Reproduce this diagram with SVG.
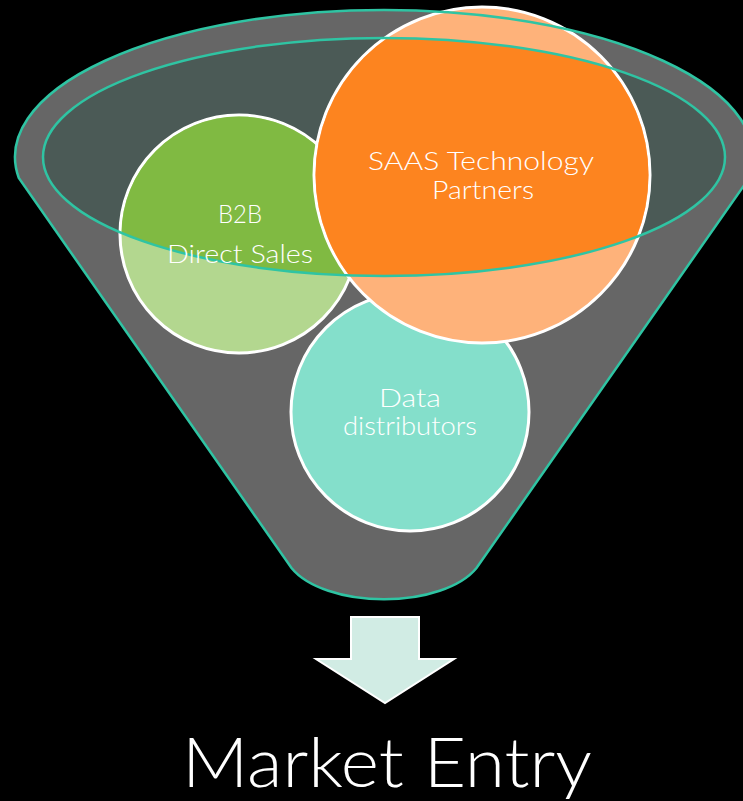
<svg xmlns="http://www.w3.org/2000/svg" width="743" height="801" viewBox="0 0 743 801">
  <style>
    .rim { stroke: #2fc4a3; stroke-width: 2.5; }
    .ring { stroke: #ffffff; stroke-width: 3; }
    .label { fill: #ffffff; font-family: Lato, "Open Sans", "Liberation Sans", sans-serif; font-size: 25px; font-weight: 300; text-anchor: middle; }
    .title { fill: #ffffff; font-family: Lato, "Open Sans", "Liberation Sans", sans-serif; font-size: 68px; font-weight: 300; text-anchor: middle; }
  </style>
  <defs>
    <clipPath id="mouth">
      <ellipse cx="384" cy="157" rx="341" ry="119"/>
    </clipPath>
  </defs>

  <rect x="0" y="0" width="743" height="801" fill="#000000"/>

  <!-- funnel body -->
  <g id="funnel">
    <path d="M 18.8 178 A 369 147 0 1 1 749.2 178 L 476.5 568 A 100 50.6 0 0 1 291.5 568 Z" fill="#666666"/>
    <ellipse cx="384" cy="157" rx="341" ry="119" fill="#4b5a56"/>
  </g>

  <!-- channel circles -->
  <g id="node-data">
    <circle cx="410" cy="412" r="119" fill="#84dfcb" class="ring"/>
    <text class="label" x="410" y="407" textLength="62" lengthAdjust="spacingAndGlyphs">Data</text>
    <text class="label" x="410" y="435" textLength="134" lengthAdjust="spacingAndGlyphs">distributors</text>
  </g>

  <g id="node-b2b">
    <circle cx="239" cy="234" r="119" fill="#b3d78f" class="ring"/>
    <circle cx="239" cy="234" r="117.5" fill="#80ba42" clip-path="url(#mouth)"/>
  </g>

  <g id="node-saas">
    <circle cx="482" cy="175" r="168" fill="#feb27a" class="ring"/>
    <circle cx="482" cy="175" r="166.5" fill="#fd841f" clip-path="url(#mouth)"/>
  </g>

  <!-- rims drawn over the circles -->
  <g id="funnel-rims" fill="none">
    <path class="rim" d="M 18.8 178 A 369 147 0 1 1 749.2 178 L 476.5 568 A 100 50.6 0 0 1 291.5 568 Z"/>
    <ellipse class="rim" cx="384" cy="157" rx="341" ry="119"/>
  </g>

  <g id="labels">
    <text class="label" x="240" y="223" textLength="44" lengthAdjust="spacingAndGlyphs">B2B</text>
    <text class="label" x="240" y="263" textLength="146" lengthAdjust="spacingAndGlyphs">Direct Sales</text>
    <text class="label" x="481" y="170" textLength="226" lengthAdjust="spacingAndGlyphs">SAAS Technology</text>
    <text class="label" x="483" y="199" textLength="102" lengthAdjust="spacingAndGlyphs">Partners</text>
  </g>

  <!-- output arrow -->
  <g id="connectors">
    <path d="M 351 617 L 419 617 L 419 659 L 454 659 L 385 703 L 316 659 L 351 659 Z" fill="#d1ece4" stroke="#ffffff" stroke-width="2"/>
  </g>

  <g id="node-market-entry">
    <text class="title" x="387" y="787" textLength="410" lengthAdjust="spacingAndGlyphs">Market Entry</text>
  </g>
</svg>
